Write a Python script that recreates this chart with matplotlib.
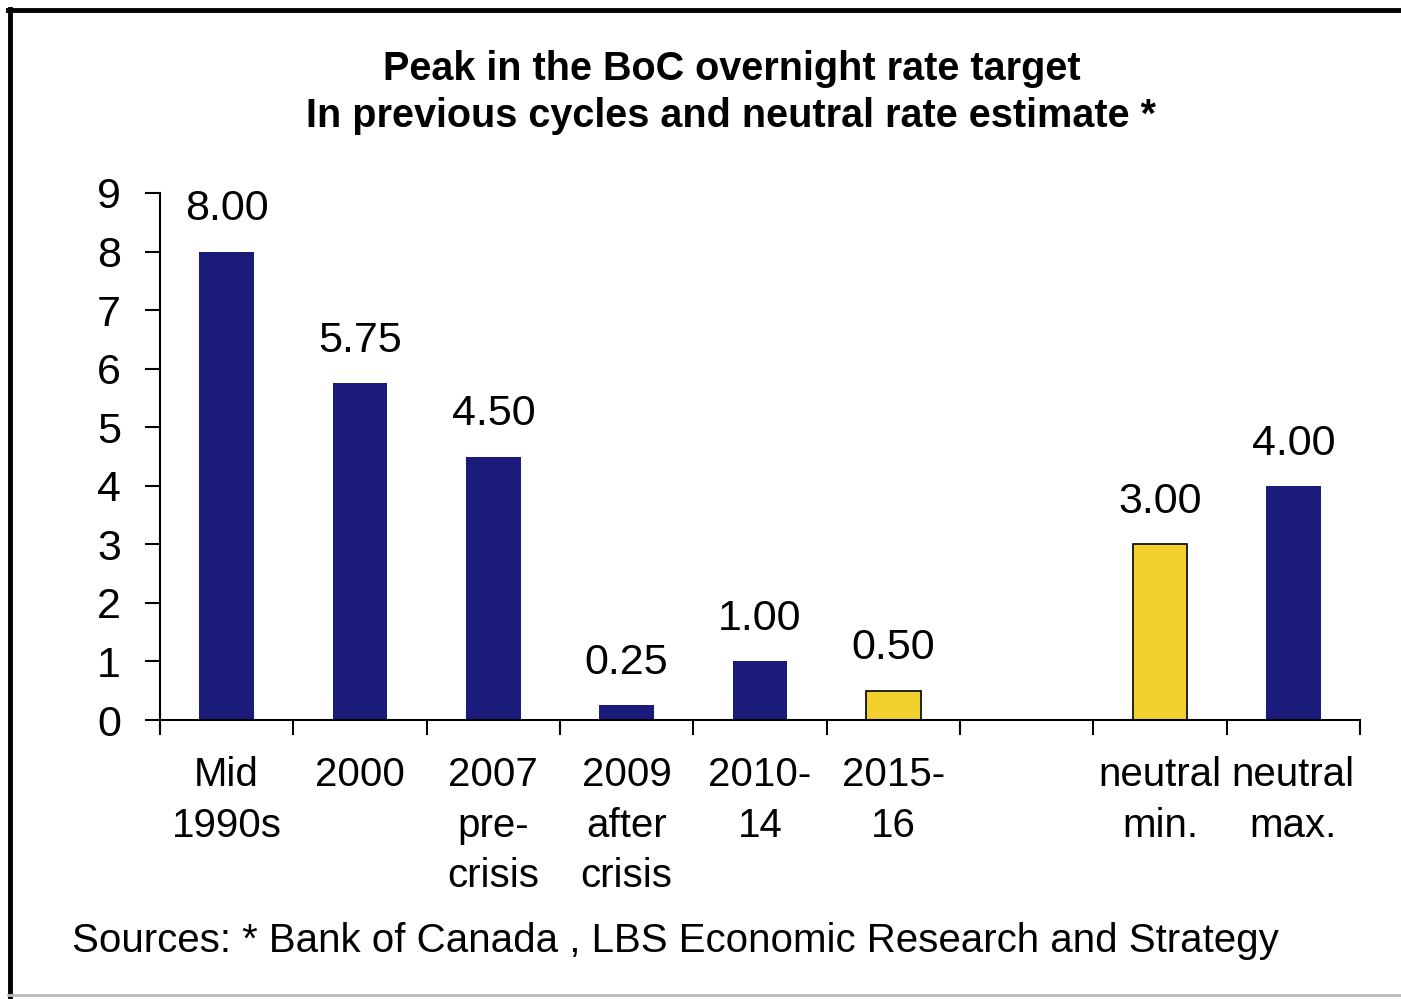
import numpy as np
import matplotlib
matplotlib.use("Agg")
import matplotlib.pyplot as plt
from matplotlib.lines import Line2D

plt.rcParams['font.family'] = ['Liberation Sans', 'DejaVu Sans']

# data (slot 6 is an empty gap)
categories = ["Mid\n1990s", "2000", "2007\npre-\ncrisis", "2009\nafter\ncrisis",
              "2010-\n14", "2015-\n16", "", "neutral\nmin.", "neutral\nmax."]
values = [8.00, 5.75, 4.50, 0.25, 1.00, 0.50, np.nan, 3.00, 4.00]
highlight = [False, False, False, False, False, True, False, True, False]

navy = "#1b1b7c"
gold = "#f2d12e"

fig = plt.figure(figsize=(14.01, 9.99), dpi=100)
ax = fig.add_axes([160/1401, 1 - 720/999, 1200/1401, 527/999])

x = np.arange(len(categories))
for xi, v, h in zip(x, values, highlight):
    if np.isnan(v):
        continue
    if h:
        ax.bar(xi, v, width=0.41, color=gold, edgecolor="black", linewidth=1.2)
    else:
        ax.bar(xi, v, width=0.41, color=navy, edgecolor=navy, linewidth=0)
    ax.text(xi, v + 0.38, "%.2f" % v, ha="center", va="bottom", fontsize=31)

ax.set_xlim(-0.5, len(categories) - 0.5)
ax.set_ylim(0, 9)
ax.set_yticks(range(10))
ax.tick_params(axis="y", labelsize=31, length=11, width=1.5, pad=17, direction="out")

# category boundaries get the tick marks, labels sit under the bars
ax.set_xticks(np.arange(-0.5, len(categories), 1.0))
ax.set_xticklabels([])
ax.set_xticks(x, minor=True)
ax.set_xticklabels(categories, minor=True, fontsize=29, linespacing=1.42)
ax.tick_params(axis="x", which="major", length=11, width=1.5, direction="out")
ax.tick_params(axis="x", which="minor", length=0, pad=26)

for s in ["top", "right"]:
    ax.spines[s].set_visible(False)
ax.spines["left"].set_linewidth(1.5)
ax.spines["bottom"].set_linewidth(1.5)

fig.text(0.522, 0.907, "Peak in the BoC overnight rate target\nIn previous cycles and neutral rate estimate *",
         ha="center", va="center", fontsize=28.5, fontweight="bold", linespacing=1.3)

fig.text(72/1401, 1 - 941/999, "Sources: * Bank of Canada , LBS Economic Research and Strategy",
         ha="left", va="center", fontsize=29)

# scanned frame around the chart
fig.add_artist(Line2D([10/1401, 10/1401], [0, 1 - 9/999], transform=fig.transFigure, color="black", lw=3.5))
fig.add_artist(Line2D([8/1401, 1], [1 - 10/999, 1 - 10/999], transform=fig.transFigure, color="black", lw=3.5))
fig.add_artist(Line2D([8/1401, 1], [1 - 995/999, 1 - 995/999], transform=fig.transFigure, color="#bbbbbb", lw=2))

fig.savefig("out.png", dpi=100)
